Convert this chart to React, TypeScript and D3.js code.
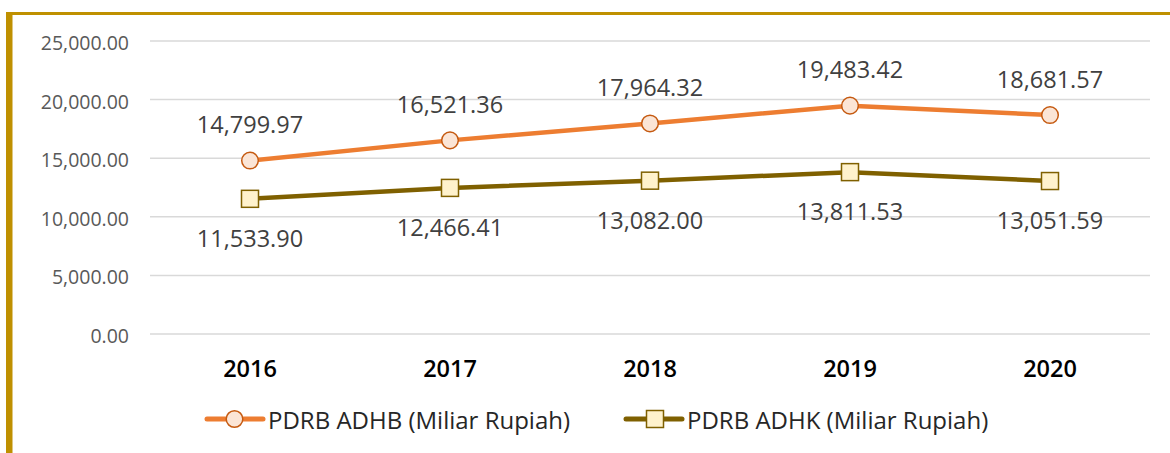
import React from "react";
import * as d3 from "d3";

const years = ["2016", "2017", "2018", "2019", "2020"];
const adhb = [14799.97, 16521.36, 17964.32, 19483.42, 18681.57];
const adhk = [11533.9, 12466.41, 13082.0, 13811.53, 13051.59];
const yTicks = [0, 5000, 10000, 15000, 20000, 25000];
const seriesNames = ["PDRB ADHB (Miliar Rupiah)", "PDRB ADHK (Miliar Rupiah)"];

const W = 1170;
const H = 453;
const FONT = "'Open Sans', 'Noto Sans', sans-serif";

export default function App() {
  const x = d3.scaleBand<string>().domain(years).range([150, 1150]).padding(0);
  const cx = (d: string) => (x(d) as number) + x.bandwidth() / 2;
  const y = d3.scaleLinear().domain([0, 25000]).range([334, 41]);
  const fmt = d3.format(",.2f");
  const line = d3
    .line<number>()
    .x((_, i) => cx(years[i]))
    .y((v) => y(v));

  const gold = "#BF9000";
  const orange = "#ED7D31";
  const orangeStroke = "#C55A11";
  const orangeFill = "#FBE5D6";
  const brown = "#7F6000";
  const brownFill = "#FFF2CC";
  const sq = 17;

  return (
    <div style={{ position: "absolute", left: 0, top: 0 }}>
      <svg width={W} height={H} style={{ display: "block" }} fontFamily={FONT}>
        <rect x={0} y={0} width={W} height={H} fill="#fff" />
        {/* border */}
        <rect x={6} y={12} width={W - 6} height={3} fill={gold} />
        <rect x={6} y={12} width={6.5} height={H - 12} fill={gold} />

        {/* gridlines & y ticks */}
        {yTicks.map((t) => (
          <g key={t}>
            <line x1={150} x2={1150} y1={y(t)} y2={y(t)} stroke="#D9D9D9" strokeWidth={1.5} />
            <text x={129} y={y(t) + 9} textAnchor="end" fontSize={19.5} fill="#595959">
              {fmt(t)}
            </text>
          </g>
        ))}

        {/* x labels */}
        {years.map((yr) => (
          <text key={yr} x={cx(yr)} y={377} textAnchor="middle" fontSize={23.5} fontWeight={600} fill="#000">
            {yr}
          </text>
        ))}

        {/* lines */}
        <path d={line(adhb) || ""} fill="none" stroke={orange} strokeWidth={4.5} strokeLinejoin="round" />
        <path d={line(adhk) || ""} fill="none" stroke={brown} strokeWidth={4.5} strokeLinejoin="round" />

        {/* markers */}
        {adhb.map((v, i) => (
          <circle key={"c" + i} cx={cx(years[i])} cy={y(v)} r={8.3} fill={orangeFill} stroke={orangeStroke} strokeWidth={1.5} />
        ))}
        {adhk.map((v, i) => (
          <rect
            key={"s" + i}
            x={cx(years[i]) - sq / 2}
            y={y(v) - sq / 2}
            width={sq}
            height={sq}
            fill={brownFill}
            stroke={brown}
            strokeWidth={1.5}
          />
        ))}

        {/* data labels */}
        {adhb.map((v, i) => (
          <text key={"la" + i} x={cx(years[i])} y={y(v) - 27.5} textAnchor="middle" fontSize={23.5} fill="#404040">
            {fmt(v)}
          </text>
        ))}
        {adhk.map((v, i) => (
          <text key={"lk" + i} x={cx(years[i])} y={y(v) + 48} textAnchor="middle" fontSize={23.5} fill="#404040">
            {fmt(v)}
          </text>
        ))}

        {/* legend */}
        <g>
          <line x1={207} x2={263} y1={419} y2={419} stroke={orange} strokeWidth={5} strokeLinecap="round" />
          <circle cx={234.5} cy={419} r={8.3} fill={orangeFill} stroke={orangeStroke} strokeWidth={1.5} />
          <text x={268} y={429} fontSize={24} fill="#262626">
            {seriesNames[0]}
          </text>
          <line x1={626} x2={682} y1={419} y2={419} stroke={brown} strokeWidth={5} strokeLinecap="round" />
          <rect x={655 - sq / 2} y={419 - sq / 2} width={sq} height={sq} fill={brownFill} stroke={brown} strokeWidth={1.5} />
          <text x={687} y={429} fontSize={24} fill="#262626">
            {seriesNames[1]}
          </text>
        </g>
      </svg>
    </div>
  );
}
